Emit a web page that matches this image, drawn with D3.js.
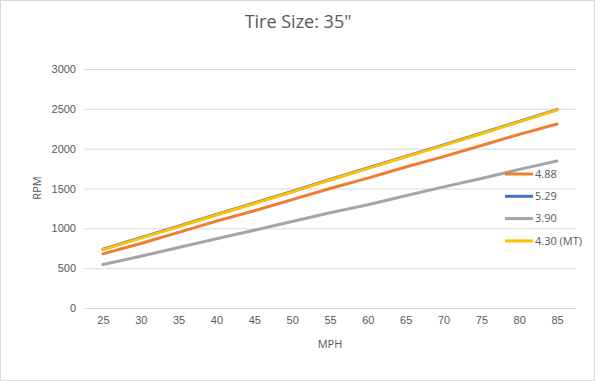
<!DOCTYPE html>
<html>
<head>
<meta charset="utf-8">
<title>Tire Size: 35"</title>
<style type="text/css">
    body{ margin: 0; background: #fff; }
    svg{ display: block; font-family: "Open Sans", "Noto Sans", sans-serif; }
    .grid line{ stroke: #d9d9d9; stroke-width: 1px; }
    .axis text{ fill: #595959; font-size: 11px; }
    .series{ fill: none; stroke-width: 3px; stroke-linejoin: round; stroke-linecap: round; }
</style>
</head>
<body>
<div id="chart"></div>
<script src="https://cdn.jsdelivr.net/npm/d3@7"></script>
<script>
    // chart values
    var mph = [25, 30, 35, 40, 45, 50, 55, 60, 65, 70, 75, 80, 85];
    var seriesNames = ["4.88", "5.29", "3.90", "4.30 (MT)"];
    var rpm488 = [680, 810, 950, 1090, 1220, 1360, 1500, 1630, 1770, 1900, 2040, 2180, 2310];
    var rpm529 = [738, 883, 1028, 1173, 1318, 1463, 1613, 1758, 1903, 2048, 2193, 2343, 2490];
    var rpm430mt = [732, 877, 1022, 1167, 1312, 1457, 1607, 1752, 1897, 2042, 2187, 2337, 2484];
    var rpm390 = [545, 650, 760, 870, 975, 1085, 1195, 1295, 1410, 1520, 1625, 1740, 1845];
    var yTicks = [0, 500, 1000, 1500, 2000, 2500, 3000];
    var colors = ["#ED7D31", "#4472C4", "#A5A5A5", "#FFC000"];

    var seriesValues = [rpm488, rpm529, rpm390, rpm430mt];

    var width = 595, height = 381;
    var svg = d3.select("#chart").append("svg")
        .attr("width", width)
        .attr("height", height);

    // outer border like the Excel chart area
    svg.append("rect")
        .attr("x", 0.5).attr("y", 0.5)
        .attr("width", width - 1).attr("height", height - 1)
        .attr("fill", "#fff").attr("stroke", "#d9d9d9");

    var plot = { left: 84, right: 576, top: 69, bottom: 308 };

    var x = d3.scalePoint().domain(mph).range([plot.left, plot.right]).padding(0.5);
    var y = d3.scaleLinear().domain([0, 3000]).range([plot.bottom, plot.top]);

    // gridlines
    svg.append("g").attr("class", "grid")
        .selectAll("line")
        .data(yTicks)
        .enter().append("line")
        .attr("x1", plot.left).attr("x2", plot.right)
        .attr("y1", (d) => y(d) + 0.5).attr("y2", (d) => y(d) + 0.5);

    // y axis labels
    var yAxis = svg.append("g").attr("class", "axis")
        .attr("transform", "translate(" + (plot.left - 8) + ",0)")
        .call(d3.axisLeft(y).tickValues(yTicks).tickFormat(d3.format("d")).tickSize(0).tickPadding(0));
    yAxis.select(".domain").remove();

    // x axis labels
    var xAxis = svg.append("g").attr("class", "axis")
        .attr("transform", "translate(0," + (plot.bottom + 8) + ")")
        .call(d3.axisBottom(x).tickSize(0).tickPadding(0));
    xAxis.select(".domain").remove();

    // lines
    var line = d3.line()
        .x((d, i) => x(mph[i]))
        .y((d) => y(d));

    svg.append("g").selectAll("path")
        .data(seriesValues)
        .enter().append("path")
        .attr("class", "series")
        .attr("stroke", (d, i) => colors[i])
        .attr("d", line);

    // title
    svg.append("text")
        .attr("x", 298).attr("y", 28)
        .attr("text-anchor", "middle")
        .attr("fill", "#595959")
        .style("font-size", "18px")
        .text("Tire Size: 35\"");

    // axis titles
    svg.append("text")
        .attr("x", 330).attr("y", 348)
        .attr("text-anchor", "middle")
        .attr("fill", "#595959")
        .style("font-size", "11px")
        .text("MPH");

    svg.append("text")
        .attr("transform", "translate(41,188) rotate(-90)")
        .attr("text-anchor", "middle")
        .attr("fill", "#595959")
        .style("font-size", "11px")
        .text("RPM");

    // legend
    var legend = svg.append("g").selectAll("g")
        .data(seriesNames)
        .enter().append("g")
        .attr("transform", (d, i) => "translate(505," + (174 + i * 22.3) + ")");
    legend.append("line")
        .attr("x1", 0).attr("x2", 28)
        .attr("stroke", (d, i) => colors[i])
        .attr("stroke-width", 3);
    legend.append("text")
        .attr("x", 30).attr("dy", "0.35em")
        .attr("fill", "#595959")
        .style("font-size", "11px")
        .text((d) => d);
</script>
</body>
</html>
